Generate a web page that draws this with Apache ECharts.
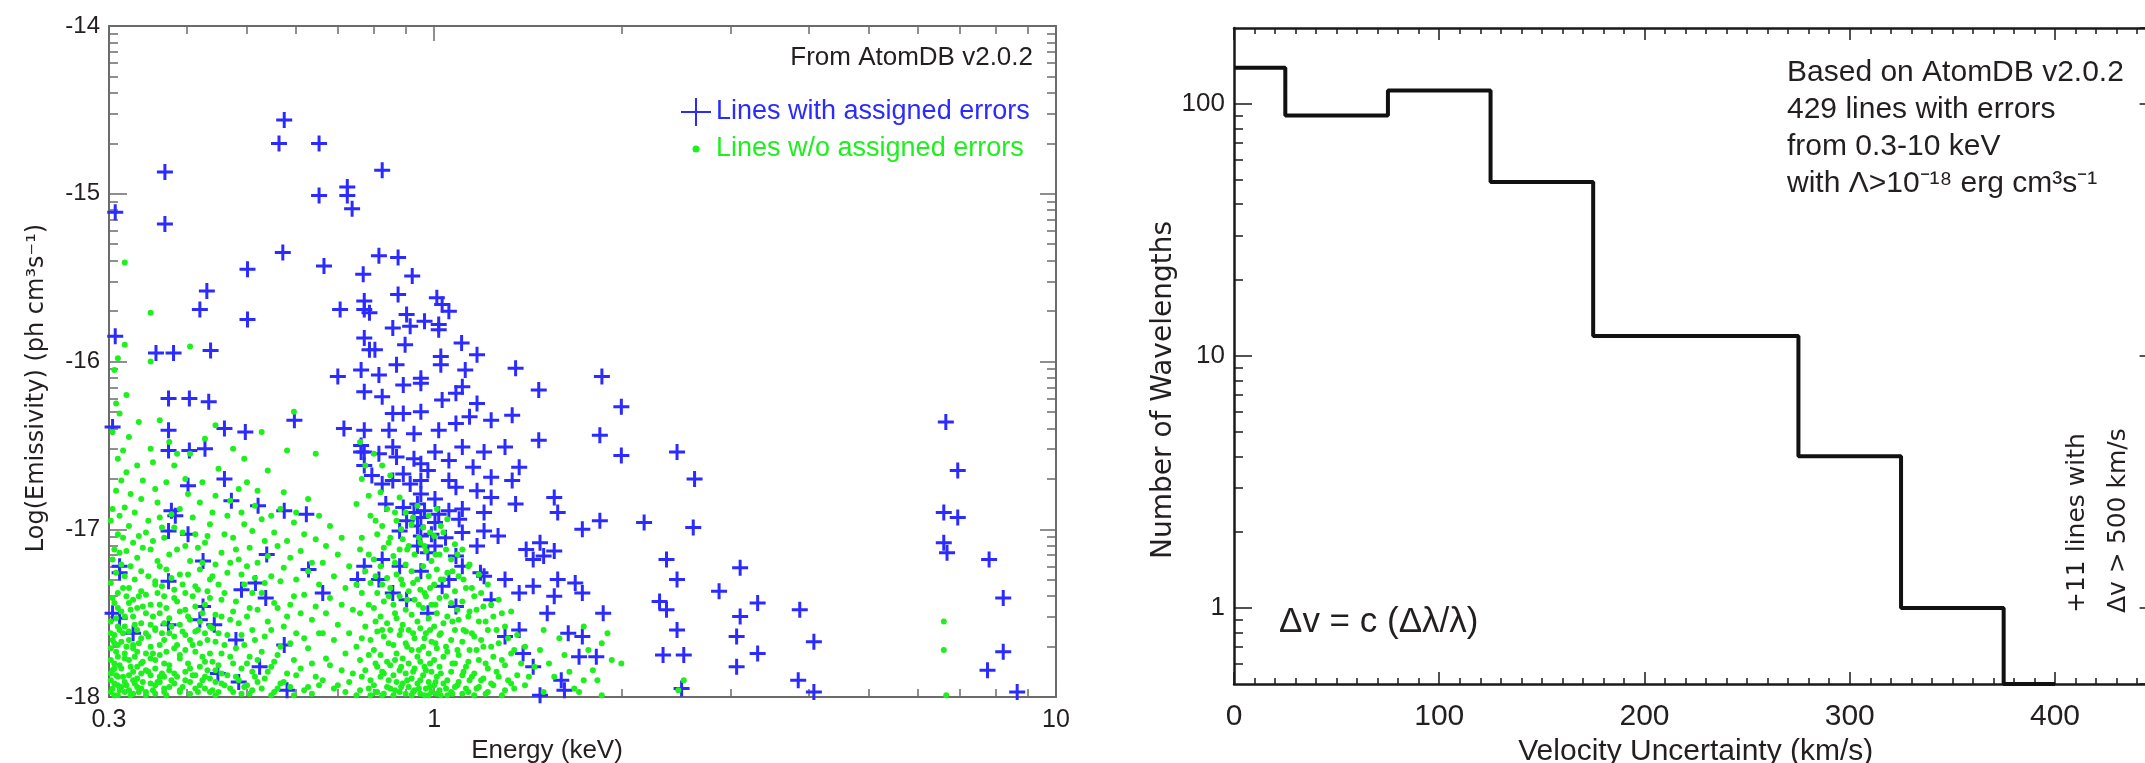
<!DOCTYPE html>
<html><head><meta charset="utf-8">
<script src="https://cdn.jsdelivr.net/npm/echarts@6.0.0/dist/echarts.min.js"></script>
<style>html,body{margin:0;padding:0;background:#fff}#c{width:2145px;height:763px}</style>
</head><body><div id="c"></div>
<script>
// ---------------- DATA ----------------
// Left panel: energy (keV) vs log10 emissivity
const energyMin = 0.3, energyMax = 10;
const logEmMin = -18, logEmMax = -14;
const energyMinorTickValues = [0.4,0.5,0.6,0.7,0.8,0.9,2,3,4,5,6,7,8,9];
const logEmDecades = [-18,-17,-16,-15];
const minorMultipliers = [2,3,4,5,6,7,8,9];

// Lines with assigned errors [energy keV, log emissivity]
const linesWithErrors = [
[0.307,-15.11],[0.307,-15.85],[0.369,-14.87],[0.369,-15.18],[0.574,-14.56],[0.563,-14.70],[0.653,-14.70],[0.653,-15.01],
[0.725,-14.96],[0.725,-15.01],[0.738,-15.09],[0.825,-14.86],[0.571,-15.35],[0.665,-15.43],[0.501,-15.45],[0.431,-15.58],
[0.42,-15.69],[0.501,-15.75],[0.815,-15.37],[0.875,-15.38],[0.769,-15.48],[0.922,-15.49],[0.875,-15.60],[0.772,-15.64],
[0.772,-15.69],[0.787,-15.71],[0.706,-15.69],[1.01,-15.62],[1.03,-15.66],[1.056,-15.70],[0.903,-15.72],[0.915,-15.79],
[0.965,-15.76],[1.017,-15.78],[1.017,-15.81],[0.858,-15.80],[0.772,-15.86],[0.787,-15.93],[0.803,-15.93],[0.898,-15.90],
[1.107,-15.89],[1.172,-15.96],[1.025,-15.97],[0.357,-15.95],[0.381,-15.95],[0.437,-15.935],[1.352,-16.04],[0.87,-16.02],
[0.763,-16.05],[1.025,-16.02],[1.122,-16.05],[1.861,-16.09],[0.70,-16.09],[0.815,-16.08],[0.952,-16.10],
[0.374,-16.22],[0.404,-16.22],[0.434,-16.24],[0.304,-16.39],[0.374,-16.41],[0.374,-16.53],[0.404,-16.53],[0.428,-16.52],
[0.46,-16.40],[0.497,-16.42],[0.596,-16.35],[0.716,-16.40],[0.772,-16.41],[0.772,-16.54],[0.763,-16.50],[0.46,-16.70],
[0.402,-16.74],[0.472,-16.83],[0.521,-16.86],[0.623,-16.91],[0.574,-16.89],[0.374,-17.01],[0.402,-17.03],[0.378,-16.89],
[0.3835,-16.92],[0.538,-17.15],[0.425,-17.19],[0.516,-17.32],[0.49,-17.36],[0.312,-17.22],[0.312,-17.26],[0.374,-17.31],
[0.628,-17.24],[0.536,-17.41],[0.662,-17.38],[0.312,-17.53],[0.328,-17.62],[0.374,-17.57],[0.425,-17.46],[0.42,-17.54],
[0.443,-17.57],[0.48,-17.66],[0.524,-17.82],[0.449,-17.86],[0.485,-17.91],[0.574,-17.69],[0.58,-17.96],[0.304,-17.50],
[0.772,-16.18],[0.825,-16.21],[0.892,-16.14],[0.952,-16.13],[1.11,-16.15],[1.084,-16.19],[1.172,-16.25],[0.892,-16.31],
[0.952,-16.30],[0.846,-16.41],[0.928,-16.43],[1.017,-16.41],[1.084,-16.37],[1.14,-16.33],[0.763,-16.54],[0.815,-16.55],
[0.87,-16.57],[0.928,-16.58],[1.003,-16.54],[1.056,-16.59],[1.11,-16.51],[1.203,-16.54],[1.335,-16.32],[1.473,-16.17],
[1.473,-16.47],[1.847,-16.44],[2.0,-16.27],[2.0,-16.56],[2.458,-16.54],[2.623,-16.70],[0.858,-16.71],[0.915,-16.73],
[0.952,-16.79],[1.003,-16.82],[1.084,-16.75],[1.172,-16.77],[1.235,-16.81],[1.352,-16.85],[0.836,-16.85],[0.892,-16.87],
[0.94,-16.85],[0.965,-16.89],[1.056,-16.89],[1.11,-16.88],[1.203,-16.90],[1.37,-16.63],[1.56,-16.81],[1.58,-16.90],
[0.94,-16.98],[0.99,-17.03],[0.94,-17.10],[0.977,-17.14],[1.043,-17.05],[1.11,-17.02],[1.203,-17.01],[1.267,-17.04],
[1.084,-17.16],[0.825,-17.18],[0.88,-17.22],[0.952,-17.25],[1.056,-17.30],[1.11,-17.22],[1.187,-17.26],[1.172,-17.10],
[1.406,-17.12],[1.48,-17.08],[1.56,-17.13],[1.50,-17.16],[1.443,-17.18],[1.731,-17.00],[1.847,-16.95],[2.176,-16.96],
[2.61,-16.99],[1.58,-17.30],[1.686,-17.32],[1.731,-17.38],[1.56,-17.40],[1.52,-17.50],[1.643,-17.62],[1.731,-17.64],
[1.87,-17.50],[1.823,-17.76],[1.71,-17.76],[1.601,-17.90],[1.62,-17.96],[1.48,-17.99],[1.443,-17.82],[1.39,-17.74],
[1.37,-17.60],[1.30,-17.64],[0.858,-17.38],[0.903,-17.42],[0.977,-17.50],[1.03,-17.34],[1.084,-17.46],[1.235,-17.42],
[2.364,-17.18],[2.458,-17.30],[2.304,-17.43],[2.364,-17.48],[2.458,-17.60],[2.334,-17.75],[2.52,-17.75],[2.872,-17.37],
[3.105,-17.23],[3.313,-17.44],[3.105,-17.52],[3.065,-17.64],[3.313,-17.74],[3.065,-17.82],[3.872,-17.48],[4.08,-17.67],
[3.85,-17.90],[4.08,-17.97],[6.65,-16.36],[6.95,-16.65],[6.6,-16.90],[6.95,-16.93],[6.6,-17.08],[6.68,-17.14],
[7.806,-17.18],[8.225,-17.41],[8.225,-17.73],[7.76,-17.84],[8.661,-17.97],[2.5,-17.95],
[0.858,-16.51],[0.952,-16.61],[0.977,-16.65],[0.892,-16.67],[0.928,-16.90],[0.952,-16.93],[1.003,-16.96],[0.903,-16.95],
[0.88,-17.01],[0.952,-17.04],[1.017,-16.91],[0.825,-16.73],[0.772,-16.62],[0.794,-16.68],[0.952,-16.71],[1.056,-16.71],
[1.155,-16.63],[1.235,-16.69],[1.097,-16.94],[1.003,-17.10],[0.858,-16.31],[1.03,-16.23],[1.235,-16.35],[1.30,-16.51],
[1.335,-16.71],[1.203,-17.28],[1.30,-17.30],[1.37,-17.38],[1.443,-17.34],[0.815,-17.30],[0.772,-17.22],[0.753,-17.30]
];

// Lines without assigned errors, grouped by energy: [energy keV, [log emissivities]]
const linesWithoutErrorsByEnergy = [
[0.302,[-16.95,-17.32,-17.55,-17.71,-17.86,-17.97,-17.62,-17.78,-17.9]],
[0.304,[-16.42,-16.88,-17.18,-17.41,-17.66,-17.84,-17.95]],
[0.306,[-16.05,-17.12,-17.44,-17.63,-17.80,-17.92,-17.68,-17.83,-17.99]],
[0.308,[-16.25,-16.77,-17.26,-17.53,-17.73,-17.87]],
[0.31,[-15.98,-16.58,-17.03,-17.38,-17.58,-17.76,-17.88,-17.99,-17.47,-17.69,-17.93]],
[0.312,[-16.31,-16.92,-17.14,-17.6,-17.81,-17.96]],
[0.314,[-16.71,-17.21,-17.49,-17.67,-17.83,-17.94]],
[0.316,[-16.53,-17.05,-17.35,-17.62,-17.88]],
[0.318,[-15.41,-15.90,-16.87,-17.28,-17.52,-17.74,-17.91,-17.58,-17.77,-17.97]],
[0.32,[-16.2,-16.66,-17.13,-17.4,-17.7,-17.93]],
[0.323,[-16.45,-16.98,-17.35,-17.61,-17.78,-17.96,-17.44,-17.66,-17.87]],
[0.325,[-16.79,-17.22,-17.48,-17.82,-17.99]],
[0.328,[-17.08,-17.42,-17.69,-17.85,-17.98,-17.52,-17.71,-17.9]],
[0.33,[-16.9,-17.3,-17.57,-17.76,-17.92]],
[0.333,[-16.62,-17.17,-17.47,-17.73,-17.89,-17.6,-17.82,-17.94]],
[0.335,[-16.36,-17.04,-17.4,-17.68,-17.97]],
[0.338,[-16.82,-17.25,-17.56,-17.80,-17.95,-17.37,-17.65,-17.86]],
[0.34,[-16.71,-17.11,-17.46,-17.79,-17.91]],
[0.344,[-17.02,-17.39,-17.62,-17.84,-17.99,-17.5,-17.74,-17.97]],
[0.347,[-16.95,-17.28,-17.64,-17.85]],
[0.35,[-15.71,-16.00,-16.52,-17.12,-17.45,-17.70,-17.87,-17.57,-17.77,-17.92]],
[0.353,[-16.6,-17.07,-17.52,-17.74,-17.96]],
[0.356,[-16.76,-17.31,-17.59,-17.78,-17.93,-17.33,-17.6,-17.83,-17.98]],
[0.359,[-16.84,-17.19,-17.38,-17.91]],
[0.362,[-16.35,-16.93,-17.22,-17.50,-17.75,-17.91,-17.45,-17.69,-17.88]],
[0.365,[-16.99,-17.34,-17.62,-17.86]],
[0.368,[-17.05,-17.40,-17.66,-17.88,-17.97,-17.56,-17.8,-17.95]],
[0.371,[-16.72,-17.24,-17.47,-17.73,-17.99]],
[0.375,[-16.48,-17.15,-17.53,-17.81,-17.94,-17.62,-17.84]],
[0.378,[-16.91,-17.29,-17.58,-17.9]],
[0.382,[-16.62,-16.99,-17.36,-17.64,-17.86,-17.41,-17.71,-17.92]],
[0.386,[-16.55,-17.12,-17.43,-17.69,-17.88]],
[0.39,[-16.88,-17.27,-17.57,-17.77,-17.96,-17.49,-17.75,-17.97]],
[0.394,[-17.02,-17.33,-17.61,-17.94]],
[0.398,[-16.70,-17.10,-17.48,-17.72,-17.90,-17.38,-17.63,-17.85]],
[0.402,[-16.79,-17.27,-17.52,-17.8]],
[0.405,[-15.91,-16.55,-17.19,-17.54,-17.83,-17.98,-17.66,-17.91]],
[0.409,[-16.93,-17.4,-17.69,-17.87]],
[0.413,[-17.03,-17.34,-17.61,-17.87,-17.46,-17.73,-17.95]],
[0.417,[-17.11,-17.36,-17.6,-17.97]],
[0.42,[-16.84,-17.24,-17.68,-17.93,-17.55,-17.82]],
[0.424,[-16.72,-17.2,-17.5,-17.76,-17.9]],
[0.428,[-16.46,-17.08,-17.45,-17.79,-17.95,-17.62,-17.88]],
[0.432,[-17.04,-17.37,-17.66,-17.84]],
[0.436,[-16.97,-17.30,-17.58,-17.89,-17.41,-17.74,-17.97]],
[0.44,[-16.9,-17.28,-17.59,-17.79,-17.96]],
[0.445,[-16.38,-16.80,-17.21,-17.51,-17.84,-17.99,-17.67,-17.91]],
[0.45,[-16.64,-17.33,-17.62,-17.81,-17.97]],
[0.455,[-17.14,-17.42,-17.74,-17.92,-17.52,-17.86]],
[0.46,[-17.03,-17.38,-17.69,-17.93]],
[0.465,[-16.92,-17.26,-17.63,-17.87]],
[0.47,[-16.83,-17.2,-17.54,-17.76,-17.95]],
[0.475,[-16.52,-17.05,-17.49,-17.80,-17.97]],
[0.48,[-17.12,-17.43,-17.71,-17.88]],
[0.485,[-16.76,-17.18,-17.56,-17.90]],
[0.49,[-16.9,-17.27,-17.63,-17.83,-17.98]],
[0.495,[-16.58,-16.97,-17.33,-17.69,-17.94]],
[0.50,[-16.72,-17.22,-17.52,-17.8,-17.93]],
[0.505,[-17.11,-17.47,-17.76,-17.98]],
[0.51,[-17.01,-17.38,-17.6,-17.85,-17.96]],
[0.515,[-16.86,-17.29,-17.66,-17.88]],
[0.52,[-16.77,-17.2,-17.48,-17.78,-17.91]],
[0.528,[-16.42,-16.94,-17.38,-17.73,-17.95]],
[0.534,[-17.07,-17.32,-17.64,-17.89]],
[0.54,[-16.65,-17.16,-17.55,-17.85]],
[0.547,[-16.92,-17.28,-17.6,-17.82,-17.99]],
[0.553,[-17.02,-17.44,-17.79,-17.97]],
[0.56,[-17.1,-17.47,-17.75,-17.95]],
[0.566,[-16.88,-17.31,-17.70,-17.92]],
[0.573,[-16.78,-17.23,-17.58,-17.91]],
[0.58,[-16.53,-17.07,-17.52,-17.86]],
[0.587,[-17.17,-17.45,-17.68,-17.94]],
[0.595,[-16.30,-16.96,-17.40,-17.78,-17.99]],
[0.6,[-16.9,-17.3,-17.62,-17.87]],
[0.61,[-17.13,-17.50,-17.83]],
[0.618,[-17.03,-17.39,-17.65,-17.96]],
[0.627,[-16.82,-17.25,-17.71,-17.94]],
[0.636,[-17.2,-17.54,-17.8,-17.98]],
[0.645,[-16.55,-17.06,-17.46,-17.88]],
[0.653,[-16.92,-17.33,-17.62,-17.93]],
[0.662,[-17.20,-17.62,-17.90]],
[0.67,[-17.1,-17.5,-17.77]],
[0.68,[-16.98,-17.41,-17.81]],
[0.69,[-17.28,-17.66,-17.95]],
[0.70,[-17.15,-17.57,-17.93]],
[0.71,[-17.05,-17.45,-17.84]],
[0.72,[-17.35,-17.74,-17.97]],
[0.73,[-17.22,-17.62,-17.91]],
[0.74,[-17.48,-17.86]],
[0.75,[-16.85,-17.33,-17.7,-17.99]],
[0.76,[-16.48,-17.12,-17.5,-17.78,-17.96]],
[0.765,[-16.7,-17.05,-17.38,-17.65,-17.88]],
[0.775,[-16.62,-17.25,-17.58,-17.84]],
[0.785,[-16.8,-17.15,-17.45,-17.75,-17.95]],
[0.79,[-16.92,-17.32,-17.66,-17.9,-17.99]],
[0.80,[-16.55,-17.18,-17.47,-17.72,-17.93]],
[0.805,[-16.95,-17.28,-17.55,-17.8,-17.97]],
[0.81,[-17.03,-17.38,-17.61,-17.82,-17.97]],
[0.82,[-16.78,-17.22,-17.52,-17.75,-17.88]],
[0.825,[-16.62,-16.98,-17.33,-17.6,-17.85,-17.99]],
[0.83,[-17.11,-17.43,-17.64,-17.86,-17.98]],
[0.84,[-16.88,-17.29,-17.56,-17.79,-17.94]],
[0.845,[-17.08,-17.4,-17.68,-17.9]],
[0.85,[-16.68,-17.05,-17.35,-17.6,-17.81,-17.95]],
[0.86,[-17.16,-17.45,-17.69,-17.87,-17.99]],
[0.865,[-16.9,-17.2,-17.5,-17.78,-17.96]],
[0.87,[-16.95,-17.27,-17.53,-17.74,-17.91]],
[0.88,[-16.81,-17.12,-17.4,-17.63,-17.84,-17.97]],
[0.885,[-17.0,-17.3,-17.6,-17.82,-17.94]],
[0.89,[-17.06,-17.33,-17.57,-17.77,-17.92]],
[0.90,[-16.9,-17.21,-17.48,-17.68,-17.86,-17.98]],
[0.905,[-17.12,-17.42,-17.7,-17.9]],
[0.91,[-17.1,-17.37,-17.6,-17.8,-17.94]],
[0.92,[-16.97,-17.25,-17.51,-17.72,-17.89,-17.99]],
[0.925,[-16.93,-17.32,-17.62,-17.85,-17.97]],
[0.93,[-17.15,-17.42,-17.65,-17.83,-17.96]],
[0.94,[-16.86,-17.3,-17.55,-17.76,-17.92]],
[0.945,[-17.05,-17.45,-17.72,-17.95]],
[0.95,[-17.08,-17.36,-17.59,-17.79,-17.9,-17.98]],
[0.96,[-16.99,-17.22,-17.47,-17.7,-17.87]],
[0.965,[-17.1,-17.38,-17.65,-17.82,-17.99]],
[0.97,[-17.13,-17.4,-17.62,-17.84,-17.95]],
[0.98,[-16.92,-17.28,-17.53,-17.74,-17.91,-17.99]],
[0.985,[-17.02,-17.35,-17.6,-17.8,-17.94]],
[0.99,[-17.19,-17.45,-17.67,-17.85,-17.97]],
[1.00,[-17.04,-17.33,-17.58,-17.78,-17.93]],
[1.005,[-17.15,-17.45,-17.68,-17.91]],
[1.01,[-16.88,-17.24,-17.5,-17.71,-17.88,-17.98]],
[1.02,[-17.15,-17.41,-17.63,-17.82,-17.96]],
[1.025,[-16.98,-17.3,-17.62,-17.86,-17.99]],
[1.035,[-17.02,-17.3,-17.56,-17.76,-17.92]],
[1.045,[-17.12,-17.4,-17.7,-17.95]],
[1.05,[-16.94,-17.26,-17.52,-17.73,-17.9,-17.99]],
[1.065,[-17.18,-17.44,-17.66,-17.85,-17.97]],
[1.07,[-17.25,-17.55,-17.8,-17.98]],
[1.08,[-17.09,-17.37,-17.6,-17.8,-17.94]],
[1.09,[-17.15,-17.48,-17.72,-17.93]],
[1.095,[-17.28,-17.54,-17.75,-17.91]],
[1.11,[-17.12,-17.43,-17.67,-17.87,-17.98]],
[1.115,[-17.3,-17.6,-17.85]],
[1.125,[-17.35,-17.61,-17.82,-17.95]],
[1.135,[-17.22,-17.52,-17.79,-17.97]],
[1.14,[-17.21,-17.49,-17.72,-17.9]],
[1.15,[-17.35,-17.62,-17.88]],
[1.16,[-17.4,-17.64,-17.86,-17.99]],
[1.17,[-17.48,-17.72,-17.95]],
[1.18,[-17.27,-17.55,-17.78,-17.94]],
[1.19,[-17.38,-17.66,-17.9]],
[1.2,[-17.46,-17.7,-17.89]],
[1.21,[-17.55,-17.8,-17.98]],
[1.22,[-17.33,-17.6,-17.83,-17.97]],
[1.235,[-17.45,-17.7,-17.92]],
[1.245,[-17.52,-17.76,-17.93]],
[1.26,[-17.6,-17.85]],
[1.27,[-17.42,-17.68,-17.88]],
[1.285,[-17.5,-17.78,-17.99]],
[1.3,[-17.58,-17.81,-17.96]],
[1.315,[-17.65,-17.9]],
[1.33,[-17.49,-17.74,-17.92]],
[1.345,[-17.72,-17.95]],
[1.36,[-17.63,-17.87]],
[1.38,[-17.8]],
[1.40,[-17.7,-17.93]],[1.42,[-17.88]],[1.45,[-17.82]],[1.48,[-17.72]],[1.50,[-17.6,-17.97]],[1.53,[-17.8]],
[1.56,[-17.88]],[1.59,[-17.65]],[1.62,[-17.75]],[1.65,[-17.85]],[1.68,[-17.95]],[1.71,[-17.97]],
[1.74,[-17.58,-17.9]],[1.77,[-17.72]],[1.80,[-17.84]],[1.83,[-17.9]],[1.86,[-17.68,-17.99]],[1.9,[-17.62]],[1.93,[-17.78]],
[2.0,[-17.80]],[2.47,[-17.96]],[2.52,[-17.9]],[6.6,[-17.55,-17.72]],[6.66,[-17.99]]
];

// Right panel: histogram of velocity uncertainty (bin centres, km/s) and counts
const velocityBinCentres = [0, 50, 100, 150, 200, 250, 300, 350, 400];
const wavelengthCounts   = [139, 90, 113, 49, 12, 12, 4, 1, 0];
const velocityMin = 0, velocityMax = 450, velocityStep = 100;
const countMin = 0.5, countMax = 200;
const countMinorTickValues = [0.6,0.7,0.8,0.9,2,3,4,5,6,7,8,9,20,30,40,50,60,70,80,90];

// ---------------- STYLE ----------------
const FONT = '"Liberation Sans", Arial, sans-serif';
const FONT2 = '"DejaVu Sans", Verdana, sans-serif';
const INK = '#231f20';
const FRAME_L = '#6b6b6b';
const FRAME_R = '#1a1a1a';
const BLUE = '#2b2bff';
const GREEN = '#1ef01e';
const PLUS = 'path://M6.5,0H9.5V6.5H16V9.5H9.5V16H6.5V9.5H0V6.5H6.5Z';
const PLUS_LEGEND = 'path://M14,0H16V13H30V15H16V28H14V15H0V13H14Z';
const DOT_LEGEND = 'path://M0,0M30,28M11.5,14A3.5,3.5 0 1,0 18.5,14A3.5,3.5 0 1,0 11.5,14Z';

const log10 = Math.log10;
const logEmMinorTicks = [];
logEmDecades.forEach(d => minorMultipliers.forEach(k => logEmMinorTicks.push(d + log10(k))));

const noErrPoints = [];
linesWithoutErrorsByEnergy.forEach(([e, ls]) => ls.forEach(l => noErrPoints.push([e, l])));
const histPoints = velocityBinCentres.map((v, i) => [v, wavelengthCounts[i] > 0 ? wavelengthCounts[i] : countMin]);

const tickStyleL = {color: FRAME_L, width: 1.5};
const tickStyleR = {color: FRAME_R, width: 1.5};
const noSplit = {show: false};
const lineL = {show: true, onZero: false, lineStyle: {color: FRAME_L, width: 2}};
const lineR = {show: true, onZero: false, lineStyle: {color: FRAME_R, width: 2.5}};
const noLine = {show: false, onZero: false};

const chart = echarts.init(document.getElementById('c'), null, {renderer: 'canvas'});
chart.setOption({
  animation: false,
  backgroundColor: '#fff',
  grid: [
    {left: 109, top: 26, width: 947, height: 671, outerBoundsMode: 'none', containLabel: false},
    {left: 1234, top: 28, width: 923.6, height: 656, outerBoundsMode: 'none', containLabel: false}
  ],
  xAxis: [
    {type: 'log', logBase: 10, gridIndex: 0, position: 'bottom', min: energyMin, max: energyMax,
     axisLine: lineL,
     axisTick: {show: true, inside: true, length: 15, lineStyle: tickStyleL},
     axisLabel: {show: true, margin: 11, fontSize: 25, fontFamily: FONT, color: INK},
     splitLine: noSplit,
     name: 'Energy (keV)', nameLocation: 'middle', nameGap: 38,
     nameTextStyle: {fontSize: 26, fontFamily: FONT, color: INK, padding: [0, 71, 0, 0]}},
    {type: 'value', gridIndex: 0, position: 'bottom', min: log10(energyMin), max: log10(energyMax),
     axisLine: noLine, axisLabel: {show: false}, splitLine: noSplit,
     axisTick: {show: true, inside: true, length: 8, lineStyle: tickStyleL, customValues: energyMinorTickValues.map(log10)}},
    {type: 'log', logBase: 10, gridIndex: 0, position: 'top', min: energyMin, max: energyMax,
     axisLine: lineL,
     axisTick: {show: true, inside: true, length: 15, lineStyle: tickStyleL},
     axisLabel: {show: false}, splitLine: noSplit},
    {type: 'value', gridIndex: 0, position: 'top', min: log10(energyMin), max: log10(energyMax),
     axisLine: noLine, axisLabel: {show: false}, splitLine: noSplit,
     axisTick: {show: true, inside: true, length: 8, lineStyle: tickStyleL, customValues: energyMinorTickValues.map(log10)}},
    {type: 'value', gridIndex: 1, position: 'bottom', min: velocityMin, max: velocityMax, interval: velocityStep,
     axisLine: lineR,
     axisTick: {show: true, inside: true, length: 12, lineStyle: tickStyleR},
     minorTick: {show: true, splitNumber: 10, length: 6, lineStyle: tickStyleR},
     axisLabel: {show: true, margin: 18, fontSize: 30, fontFamily: FONT, color: INK, showMaxLabel: false},
     splitLine: noSplit, minorSplitLine: noSplit,
     name: 'Velocity Uncertainty (km/s)', nameLocation: 'middle', nameGap: 46,
     nameTextStyle: {fontSize: 30, fontFamily: FONT, color: INK}},
    {type: 'value', gridIndex: 1, position: 'top', min: velocityMin, max: velocityMax, interval: velocityStep,
     axisLine: lineR,
     axisTick: {show: true, inside: true, length: 12, lineStyle: tickStyleR},
     minorTick: {show: true, splitNumber: 10, length: 6, lineStyle: tickStyleR},
     axisLabel: {show: false}, splitLine: noSplit, minorSplitLine: noSplit}
  ],
  yAxis: [
    {type: 'value', gridIndex: 0, position: 'left', min: logEmMin, max: logEmMax, interval: 1,
     axisLine: lineL,
     axisTick: {show: true, inside: true, length: 18, lineStyle: tickStyleL},
     axisLabel: {show: true, margin: 9, fontSize: 24, fontFamily: FONT, color: INK},
     splitLine: noSplit,
     name: 'Log(Emissivity) (ph cm³s⁻¹)', nameLocation: 'middle', nameGap: 60,
     nameTextStyle: {fontSize: 24, fontFamily: FONT2, color: INK, padding: [0, 53, 0, 0]}},
    {type: 'value', gridIndex: 0, position: 'left', min: logEmMin, max: logEmMax,
     axisLine: noLine, axisLabel: {show: false}, splitLine: noSplit,
     axisTick: {show: true, inside: true, length: 9, lineStyle: tickStyleL, customValues: logEmMinorTicks}},
    {type: 'value', gridIndex: 0, position: 'right', min: logEmMin, max: logEmMax, interval: 1,
     axisLine: lineL,
     axisTick: {show: true, inside: true, length: 16, lineStyle: tickStyleL},
     axisLabel: {show: false}, splitLine: noSplit},
    {type: 'value', gridIndex: 0, position: 'right', min: logEmMin, max: logEmMax,
     axisLine: noLine, axisLabel: {show: false}, splitLine: noSplit,
     axisTick: {show: true, inside: true, length: 9, lineStyle: tickStyleL, customValues: logEmMinorTicks}},
    {type: 'log', logBase: 10, gridIndex: 1, position: 'left', min: countMin, max: countMax,
     axisLine: lineR,
     axisTick: {show: true, inside: true, length: 18, lineStyle: tickStyleR},
     axisLabel: {show: true, margin: 9, fontSize: 26, fontFamily: FONT, color: INK, showMinLabel: false, showMaxLabel: false},
     splitLine: noSplit,
     name: 'Number of Wavelengths', nameLocation: 'middle', nameGap: 48,
     nameTextStyle: {fontSize: 28, fontFamily: FONT2, color: INK, padding: [0, 68, 0, 0]}},
    {type: 'value', gridIndex: 1, position: 'left', min: log10(countMin), max: log10(countMax),
     axisLine: noLine, axisLabel: {show: false}, splitLine: noSplit,
     axisTick: {show: true, inside: true, length: 9, lineStyle: tickStyleR, customValues: countMinorTickValues.map(log10)}},
    {type: 'log', logBase: 10, gridIndex: 1, position: 'right', min: countMin, max: countMax,
     axisLine: lineR,
     axisTick: {show: true, inside: true, length: 18, lineStyle: tickStyleR},
     axisLabel: {show: false}, splitLine: noSplit},
    {type: 'value', gridIndex: 1, position: 'right', min: log10(countMin), max: log10(countMax),
     axisLine: noLine, axisLabel: {show: false}, splitLine: noSplit,
     axisTick: {show: true, inside: true, length: 9, lineStyle: tickStyleR, customValues: countMinorTickValues.map(log10)}}
  ],
  legend: {
    show: true, orient: 'vertical', left: 676, top: 93, itemGap: 9,
    itemWidth: 30, itemHeight: 28, selectedMode: false,
    textStyle: {fontSize: 27, fontFamily: FONT, lineHeight: 28},
    data: [
      {name: 'Lines with assigned errors', icon: PLUS_LEGEND, itemStyle: {color: BLUE}, textStyle: {color: BLUE}},
      {name: 'Lines w/o assigned errors', icon: DOT_LEGEND, itemStyle: {color: GREEN}, textStyle: {color: GREEN}}
    ]
  },
  series: [
    {name: 'Lines with assigned errors', type: 'scatter', xAxisIndex: 0, yAxisIndex: 0,
     symbol: PLUS, symbolSize: 16, itemStyle: {color: BLUE, opacity: 1}, data: linesWithErrors, z: 2},
    {name: 'Lines w/o assigned errors', type: 'scatter', xAxisIndex: 0, yAxisIndex: 0,
     symbol: 'circle', symbolSize: 6, itemStyle: {color: GREEN, opacity: 1}, data: noErrPoints, z: 3},
    {name: 'Velocity histogram', type: 'line', xAxisIndex: 4, yAxisIndex: 4, step: 'middle',
     showSymbol: false, symbol: 'none', clip: false,
     lineStyle: {color: '#111', width: 4}, data: histPoints, z: 4}
  ],
  graphic: [
    {type: 'text', x: 1033, y: 58, style: {text: 'From AtomDB v2.0.2', fill: INK, font: '26px ' + FONT, textAlign: 'right', textVerticalAlign: 'middle'}},
    {type: 'text', x: 1787, y: 73, style: {text: 'Based on AtomDB v2.0.2', fill: INK, font: '30px ' + FONT, textAlign: 'left', textVerticalAlign: 'middle'}},
    {type: 'text', x: 1787, y: 110, style: {text: '429 lines with errors', fill: INK, font: '30px ' + FONT, textAlign: 'left', textVerticalAlign: 'middle'}},
    {type: 'text', x: 1787, y: 147, style: {text: 'from 0.3-10 keV', fill: INK, font: '30px ' + FONT, textAlign: 'left', textVerticalAlign: 'middle'}},
    {type: 'text', x: 1787, y: 184, style: {text: 'with Λ>10⁻¹⁸ erg cm³s⁻¹', fill: INK, font: '30px ' + FONT, textAlign: 'left', textVerticalAlign: 'middle'}},
    {type: 'text', x: 1279, y: 622, style: {text: 'Δv = c (Δλ/λ)', fill: INK, font: '35px ' + FONT, textAlign: 'left', textVerticalAlign: 'middle'}},
    {type: 'text', x: 2077, y: 613, rotation: Math.PI / 2, style: {text: '+11 lines with', fill: INK, font: '25px ' + FONT2, textAlign: 'left', textVerticalAlign: 'middle'}},
    {type: 'text', x: 2118, y: 613, rotation: Math.PI / 2, style: {text: 'Δv > 500 km/s', fill: INK, font: '25px ' + FONT2, textAlign: 'left', textVerticalAlign: 'middle'}}
  ]
});
</script></body></html>
